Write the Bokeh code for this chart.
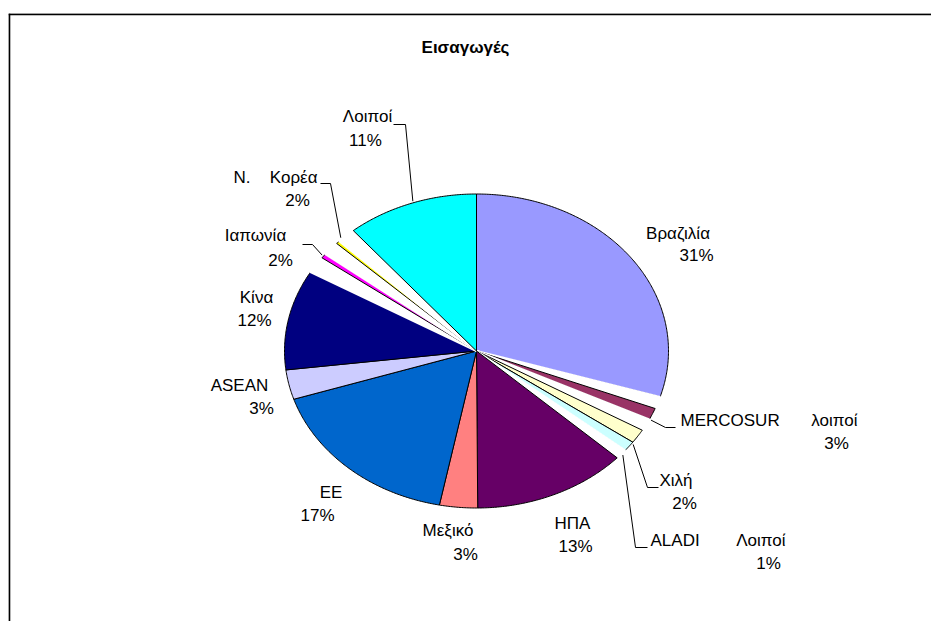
import numpy as np
from bokeh.plotting import figure
from bokeh.models import Range1d, Span
from bokeh.core.properties import value
from bokeh.embed import file_html
from bokeh.resources import INLINE

# ---------------- data ----------------
# slices clockwise from 12 o'clock; "" = blank (unlabelled) share
slice_names = ["Βραζιλία", "", "MERCOSUR λοιποί", "", "Χιλή", "ALADI Λοιποί", "",
               "ΗΠΑ", "Μεξικό", "ΕΕ", "ASEAN", "Κίνα", "", "Ιαπωνία", "",
               "Ν. Κορέα", "", "Λοιποί"]
slice_values = [29.75, 1.25, 1.2, 1.25, 1.45, 1.05, 1.0,
                13.0, 3.2, 16.95, 3.05, 10.3, 1.75, 0.45, 1.45,
                0.3, 1.6, 11.1]

label_names = ["Βραζιλία", "MERCOSUR λοιποί", "Χιλή", "ALADI Λοιποί", "ΗΠΑ", "Μεξικό",
               "ΕΕ", "ASEAN", "Κίνα", "Ιαπωνία", "Ν. Κορέα", "Λοιποί"]
label_pct = [31, 3, 2, 1, 13, 3, 17, 3, 12, 2, 2, 11]

slice_colors = {
    "Βραζιλία": "#9999FF", "MERCOSUR λοιποί": "#993366", "Χιλή": "#FFFFCC",
    "ALADI Λοιποί": "#CCFFFF", "ΗΠΑ": "#660066", "Μεξικό": "#FF8080",
    "ΕΕ": "#0066CC", "ASEAN": "#CCCCFF", "Κίνα": "#000080",
    "Ιαπωνία": "#FF00FF", "Ν. Κορέα": "#FFFF00", "Λοιποί": "#00FFFF",
}
title_text = "Εισαγωγές"

# ---------------- layout (screen pixels; y down) ----------------
CX, CY, RX, RY = 476.0, 350.5, 192.0, 157.0
# first line: (x_left, x_right, baseline)
line1_pos = {
    "Βραζιλία": (645, 710, 233), "MERCOSUR λοιποί": (680, 857, 420),
    "Χιλή": (662, 689, 480), "ALADI Λοιποί": (650, 785, 540),
    "ΗΠΑ": (557, 587, 523), "Μεξικό": (423, 472, 530), "ΕΕ": (319, 342, 492),
    "ASEAN": (210, 268, 385), "Κίνα": (239, 273, 297), "Ιαπωνία": (225, 285, 235),
    "Ν. Κορέα": (233, 317, 177), "Λοιποί": (343, 391, 116),
}
# second line: (x_center, baseline)
line2_pos = {
    "Βραζιλία": (696, 255), "MERCOSUR λοιποί": (836, 443), "Χιλή": (684, 503),
    "ALADI Λοιποί": (768, 563), "ΗΠΑ": (575, 546), "Μεξικό": (465, 554),
    "ΕΕ": (317, 515), "ASEAN": (261, 408), "Κίνα": (254, 320),
    "Ιαπωνία": (280, 260), "Ν. Κορέα": (297, 200), "Λοιποί": (365, 140),
}
# leader lines: (x_start, x_elbow, y_level, angle_nudge_deg)
leaders = {
    "Λοιποί": (393, 405, 124, 0.8), "Ν. Κορέα": (320, 330, 183, 1.8),
    "Ιαπωνία": (302, 312, 244, 0.0), "MERCOSUR λοιποί": (675, 665, 427, 2.2),
    "Χιλή": (658, 647, 487, 3.2), "ALADI Λοιποί": (647, 635, 547, 3.6),
}

# frame starts at the chart-area border (8, 13) and runs past the window edges
p = figure(width=931, height=621, x_range=Range1d(8, 931), y_range=Range1d(-621, -13),
           output_backend="svg", toolbar_location=None, min_border=0,
           min_border_left=8, min_border_right=0, min_border_bottom=0, min_border_top=13)
p.axis.visible = False
p.xgrid.visible = False
p.ygrid.visible = False
p.outline_line_color = None
p.background_fill_color = "white"
p.border_fill_color = "white"

# ---------------- pie (elliptical) ----------------
vals = np.array(slice_values, dtype=float)
cum = np.concatenate([[0.0], np.cumsum(vals)]) / vals.sum() * 360.0
xs, ys, fills, lines, widths = [], [], [], [], []
mid_angle = {}
for i, name in enumerate(slice_names):
    a0, a1 = cum[i], cum[i + 1]
    th = np.radians(np.linspace(a0, a1, max(3, int((a1 - a0) * 2) + 2)))
    px = np.concatenate([[CX], CX + RX * np.sin(th), [CX]])
    py = np.concatenate([[-CY], -CY + RY * np.cos(th), [-CY]])
    xs.append(list(px)); ys.append(list(py))
    if name:
        fills.append(slice_colors[name]); lines.append("black"); widths.append(1.0)
        mid_angle[name] = 0.5 * (a0 + a1)
    else:
        fills.append("white"); lines.append("white"); widths.append(2.0)

p.patches(xs=xs, ys=ys, fill_color=fills, line_color=lines, line_width=widths,
          line_join="bevel")

# ---------------- leader lines ----------------
lx, ly = [], []
for name, (xs0, xe, yl, nudge) in leaders.items():
    th = np.radians(mid_angle[name] + nudge)
    ex = CX + 1.01 * RX * np.sin(th)
    ey = -CY + 1.01 * RY * np.cos(th)
    lx.append([xs0, xe, ex]); ly.append([-yl, -yl, ey])
p.multi_line(xs=lx, ys=ly, line_color="black", line_width=1)

# ---------------- labels ----------------
font = value("Liberation Sans")
fs = "17px"
cx_, cy_, ct_ = [], [], []
lx_, ly_, lt_ = [], [], []
rx_, ry_, rt_ = [], [], []
for name, pct in zip(label_names, label_pct):
    xl, xr, b = line1_pos[name]
    words = name.split()
    if len(words) == 1:
        cx_.append((xl + xr) / 2); cy_.append(-b); ct_.append(name)
    else:
        lx_.append(xl); ly_.append(-b); lt_.append(words[0])
        rx_.append(xr); ry_.append(-b); rt_.append(words[-1])
    x2, b2 = line2_pos[name]
    cx_.append(x2); cy_.append(-b2); ct_.append(f"{pct}%")

p.text(x=cx_, y=cy_, text=ct_, text_font=font, text_font_size=fs,
       text_align="center", text_baseline="alphabetic", text_color="black")
p.text(x=lx_, y=ly_, text=lt_, text_font=font, text_font_size=fs,
       text_align="left", text_baseline="alphabetic", text_color="black")
p.text(x=rx_, y=ry_, text=rt_, text_font=font, text_font_size=fs,
       text_align="right", text_baseline="alphabetic", text_color="black")

p.text(x=[465], y=[-47], text=[title_text], text_font=font, text_font_size=fs,
       text_font_style="bold", text_align="center", text_baseline="alphabetic",
       text_color="black")

# ---------------- chart border (top & left visible) ----------------
p.add_layout(Span(location=-13.8, dimension="width", line_color="black", line_width=2))
p.add_layout(Span(location=8.8, dimension="height", line_color="black", line_width=2))

open("out.html", "w").write(file_html(p, INLINE))
